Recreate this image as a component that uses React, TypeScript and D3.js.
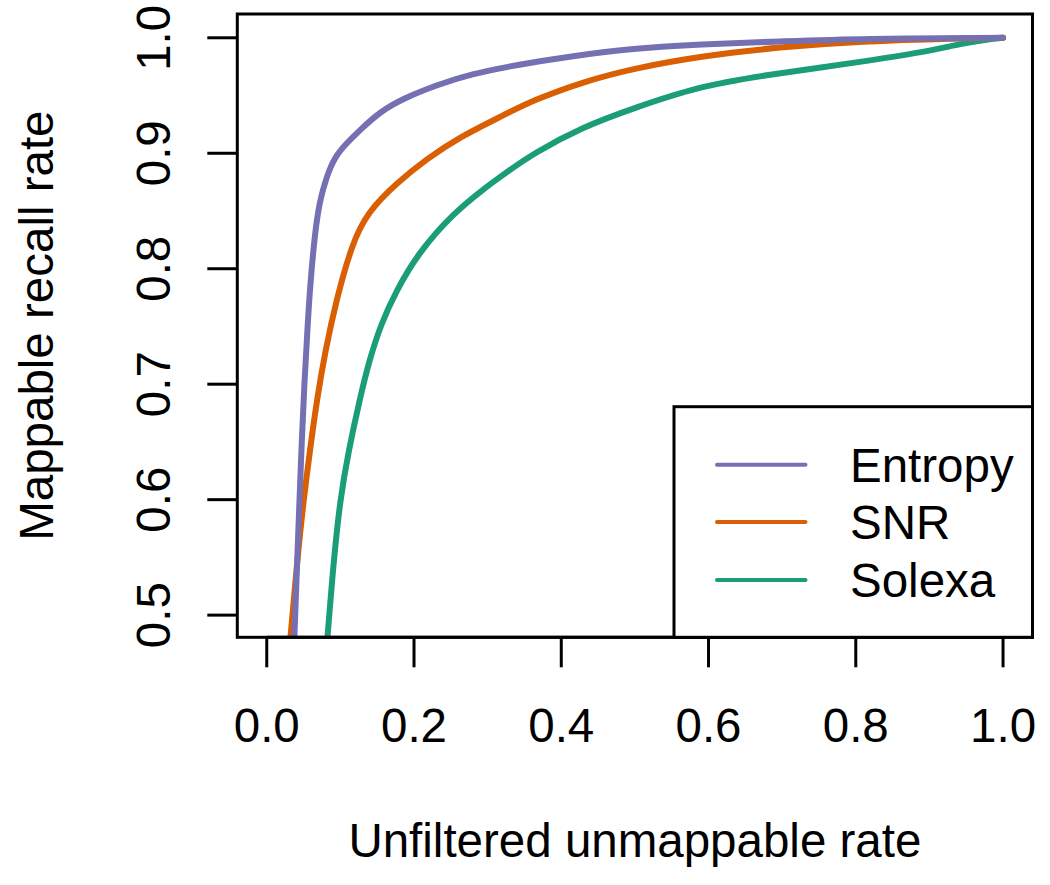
import React from "react";
import * as d3 from "d3";

const seriesNames = ["Entropy", "SNR", "Solexa"];
const seriesColors = ["#7570B3", "#D95F02", "#1B9E77"];

const entropyX = [0.037, 0.0415, 0.0445, 0.0475, 0.051, 0.0555, 0.0584, 0.0652, 0.072, 0.0811, 0.0924, 0.108, 0.1264, 0.1535, 0.1852, 0.2306, 0.2758, 0.3438, 0.407, 0.498, 0.588, 0.697, 0.806, 1.0];
const entropyY = [0.472, 0.55, 0.6, 0.65, 0.7, 0.75, 0.781, 0.8305, 0.859, 0.8794, 0.8968, 0.9084, 0.92, 0.9358, 0.9474, 0.959, 0.9685, 0.977, 0.9835, 0.9908, 0.9945, 0.9968, 0.9993, 1.0];

const snrX = [0.031, 0.0425, 0.05, 0.0585, 0.068, 0.0795, 0.0947, 0.116, 0.137, 0.176, 0.217, 0.262, 0.317, 0.362, 0.43, 0.498, 0.588, 0.697, 0.806, 0.94, 1.0];
const snrY = [0.472, 0.555, 0.599, 0.642, 0.686, 0.729, 0.7735, 0.822, 0.849, 0.874, 0.895, 0.914, 0.9315, 0.946, 0.962, 0.9735, 0.984, 0.992, 0.997, 0.9995, 1.0];

const solexaX = [0.0813, 0.09, 0.0993, 0.111, 0.127, 0.139, 0.155, 0.176, 0.205, 0.253, 0.2985, 0.317, 0.362, 0.43, 0.498, 0.588, 0.67, 0.806, 0.896, 0.94, 0.987, 1.0];
const solexaY = [0.472, 0.541, 0.599, 0.642, 0.689, 0.72, 0.752, 0.781, 0.813, 0.848, 0.871, 0.8795, 0.9, 0.923, 0.939, 0.958, 0.967, 0.979, 0.988, 0.9945, 0.9995, 1.0];

const xTicks = [0, 0.2, 0.4, 0.6, 0.8, 1.0];
const yTicks = [0.5, 0.6, 0.7, 0.8, 0.9, 1.0];

const xTitle = "Unfiltered unmappable rate";
const yTitle = "Mappable recall rate";

export default function App() {
  const W = 1050, H = 885;
  const left = 237.3, right = 1032.5, top = 14, bottom = 637.3;
  const x = d3.scaleLinear().domain([-0.04, 1.04]).range([left, right]);
  const y = d3.scaleLinear().domain([0.4808, 1.0206]).range([bottom, top]);
  const font = "'Liberation Sans', Arial, Helvetica, sans-serif";
  const fs = 47.5;

  const series = [
    { xs: entropyX, ys: entropyY },
    { xs: snrX, ys: snrY },
    { xs: solexaX, ys: solexaY },
  ];
  const line = d3
    .line<[number, number]>()
    .x((d) => x(d[0]))
    .y((d) => y(d[1]))
    .curve(d3.curveBasis);

  const legLeft = 674, legTop = 406.7;
  const legY = [464.7, 522, 580];

  return (
    <svg width={W} height={H} style={{ display: "block", position: "absolute", left: 0, top: 0 }} fontFamily={font}>
      <rect x={0} y={0} width={W} height={H} fill="white" />
      <defs>
        <clipPath id="plotclip">
          <rect x={left} y={top} width={right - left} height={bottom - top} />
        </clipPath>
      </defs>
      <g clipPath="url(#plotclip)">
        {[2, 1, 0].map((i) => (
          <path
            key={i}
            d={line(series[i].xs.map((v, j) => [v, series[i].ys[j]]) as [number, number][]) || ""}
            fill="none"
            stroke={seriesColors[i]}
            strokeWidth={6}
            strokeLinecap="round"
            strokeLinejoin="round"
          />
        ))}
      </g>
      <rect x={left} y={top} width={right - left} height={bottom - top} fill="none" stroke="black" strokeWidth={3} />
      <line x1={x(0)} x2={x(1)} y1={bottom} y2={bottom} stroke="black" strokeWidth={3} />
      {xTicks.map((t) => (
        <g key={"x" + t}>
          <line x1={x(t)} x2={x(t)} y1={bottom} y2={bottom + 30} stroke="black" strokeWidth={3} />
          <text x={x(t)} y={742} fontSize={fs} textAnchor="middle" fill="black">
            {t.toFixed(1)}
          </text>
        </g>
      ))}
      {yTicks.map((t) => (
        <g key={"y" + t}>
          <line x1={left - 30} x2={left} y1={y(t)} y2={y(t)} stroke="black" strokeWidth={3} />
          <text
            transform={`translate(170,${y(t)}) rotate(-90)`}
            fontSize={fs}
            textAnchor="middle"
            fill="black"
          >
            {t.toFixed(1)}
          </text>
        </g>
      ))}
      <text x={(left + right) / 2} y={857} fontSize={fs} textAnchor="middle" fill="black">
        {xTitle}
      </text>
      <text
        transform={`translate(53,${(top + bottom) / 2}) rotate(-90)`}
        fontSize={fs}
        textAnchor="middle"
        fill="black"
      >
        {yTitle}
      </text>
      <rect x={legLeft} y={legTop} width={right - legLeft} height={bottom - legTop} fill="white" stroke="black" strokeWidth={3} />
      {seriesNames.map((n, i) => (
        <g key={n}>
          <line x1={717} x2={805.5} y1={legY[i]} y2={legY[i]} stroke={seriesColors[i]} strokeWidth={4} strokeLinecap="round" />
          <text x={850} y={legY[i] + 17} fontSize={fs} fill="black">
            {n}
          </text>
        </g>
      ))}
    </svg>
  );
}
